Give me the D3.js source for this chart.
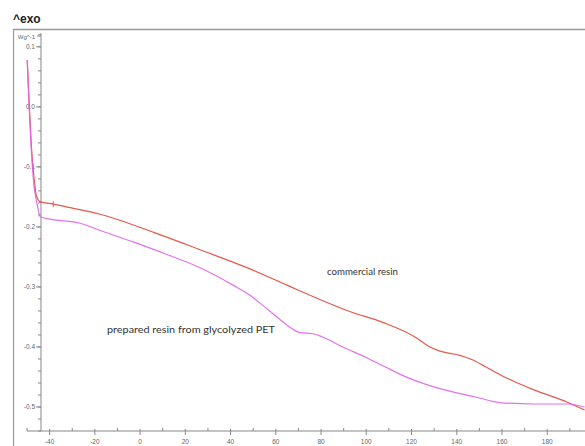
<!DOCTYPE html>
<html><head><meta charset="utf-8">
<script src="https://cdn.jsdelivr.net/npm/d3@7"></script>
<style>body{margin:0;background:#fff}svg{display:block}</style>
</head><body>
<script>
// Temperature (°C) and heat flow (W/g)
const commercialT = [-49.9,-49.0,-48.1,-46.8,-45.9,-44.2,-38.4,-32.2,-17.7,6.6,26.5,48.6,64.9,79.5,92.7,107.3,122.3,127.2,132.5,137.7,141.3,146.6,152.3,161.1,174.4,189.0,196.5];
const commercialV = [0.078,0.003,-0.063,-0.122,-0.147,-0.158,-0.162,-0.167,-0.179,-0.210,-0.238,-0.270,-0.297,-0.321,-0.341,-0.359,-0.385,-0.398,-0.407,-0.411,-0.414,-0.421,-0.432,-0.450,-0.472,-0.492,-0.505];
const preparedT = [-49.9,-49.0,-48.1,-46.8,-45.9,-45.0,-44.2,-39.7,-26.5,-17.7,-3.1,11.9,26.5,41.1,48.6,53.0,60.5,66.2,70.6,76.4,80.4,89.6,100.2,108.2,117.0,130.2,147.9,159.8,174.4,189.0,196.5];
const preparedV = [0.078,-0.005,-0.072,-0.135,-0.155,-0.172,-0.183,-0.187,-0.194,-0.206,-0.225,-0.246,-0.268,-0.297,-0.314,-0.327,-0.350,-0.367,-0.376,-0.378,-0.383,-0.400,-0.418,-0.433,-0.449,-0.467,-0.483,-0.493,-0.495,-0.495,-0.500];
const xTicks = [-40,-20,0,20,40,60,80,100,120,140,160,180,200];
const yTicks = [0.1,0.0,-0.1,-0.2,-0.3,-0.4,-0.5];
const yTickLabels = ["0.1","0.0","-0.1","-0.2","-0.3","-0.4","-0.5"];
const unitLabel = "Wg^-1";
const titleLabel = "^exo";
const seriesNames = ["commercial resin","prepared resin from glycolyzed PET"];
const markerT = [-38.4];

const W = 585, H = 446;
const svg = d3.select("body").append("svg").attr("width", W).attr("height", H);
const x = d3.scaleLinear().domain([-50, 196.7]).range([27, 585]);
const y = d3.scaleLinear().domain([-0.54, 0.123]).range([431, 33]);
const axisX = 41;
const axisCol = "#888", txtCol = "#666";

// frame
svg.append("line").attr("x1",13).attr("x2",W).attr("y1",29.5).attr("y2",29.5).attr("stroke","#999").attr("stroke-width",1.5);
svg.append("line").attr("x1",13.5).attr("x2",13.5).attr("y1",29).attr("y2",H).attr("stroke","#999").attr("stroke-width",1.2);
svg.append("text").attr("x",13).attr("y",23).text(titleLabel)
  .attr("font-family","Liberation Sans, Arial, sans-serif").attr("font-size",12).attr("font-weight","bold").attr("fill","#222");

// y axis
svg.append("line").attr("x1",axisX).attr("x2",axisX).attr("y1",33).attr("y2",431).attr("stroke",axisCol).attr("stroke-width",1);
const yMinor = d3.range(-0.54, 0.121, 0.02).map(v => Math.round(v*100)/100);
svg.append("g").selectAll("line").data(yMinor).join("line")
  .attr("x1",axisX-3).attr("x2",axisX).attr("y1",d=>y(d)).attr("y2",d=>y(d)).attr("stroke",axisCol);
svg.append("g").selectAll("line").data(yTicks).join("line")
  .attr("x1",axisX-5).attr("x2",axisX).attr("y1",d=>y(d)).attr("y2",d=>y(d)).attr("stroke",axisCol);
svg.append("g").selectAll("text").data(yTicks).join("text")
  .attr("x",axisX-6).attr("y",d=>y(d)+2.5).attr("text-anchor","end")
  .attr("font-family","Liberation Sans, Arial, sans-serif").attr("font-size",6.5).attr("fill",txtCol)
  .text((d,i)=>yTickLabels[i]);
svg.append("text").attr("x",axisX-6).attr("y",y(0.118)+2.5).attr("text-anchor","end")
  .attr("font-family","Liberation Sans, Arial, sans-serif").attr("font-size",6).attr("fill",txtCol).text(unitLabel);
svg.append("line").attr("x1",axisX-4).attr("x2",axisX).attr("y1",y(0.118)).attr("y2",y(0.118)).attr("stroke",axisCol);

// x axis
svg.append("line").attr("x1",x(-50)).attr("x2",W).attr("y1",431).attr("y2",431).attr("stroke",axisCol).attr("stroke-width",1.2);
const xMinor = d3.range(-50, 200, 10).filter(t => t % 20 !== 0);
svg.append("g").selectAll("line").data(xMinor).join("line")
  .attr("x1",d=>x(d)).attr("x2",d=>x(d)).attr("y1",428).attr("y2",431).attr("stroke",axisCol);
svg.append("g").selectAll("line").data(xTicks).join("line")
  .attr("x1",d=>x(d)).attr("x2",d=>x(d)).attr("y1",429).attr("y2",435).attr("stroke",axisCol);
svg.append("g").selectAll("text").data(xTicks).join("text")
  .attr("x",d=>x(d)).attr("y",444).attr("text-anchor","middle")
  .attr("font-family","Liberation Sans, Arial, sans-serif").attr("font-size",6.5).attr("fill",txtCol).text(d=>d);

// curves
const line = d3.line().x(d=>x(d[0])).y(d=>y(d[1])).curve(d3.curveMonotoneX);
const comm = commercialT.map((t,i)=>[t,commercialV[i]]);
const prep = preparedT.map((t,i)=>[t,preparedV[i]]);
svg.append("path").datum(comm).attr("d",line).attr("fill","none").attr("stroke","#e5584a").attr("stroke-width",1.2);
svg.append("path").datum(prep).attr("d",line).attr("fill","none").attr("stroke","#e062ea").attr("stroke-width",1.2).attr("stroke-opacity",0.9);
// small marker on the commercial curve
svg.append("g").selectAll("line").data(markerT).join("line")
  .attr("x1",d=>x(d)).attr("x2",d=>x(d))
  .attr("y1",d=>y(commercialV[commercialT.indexOf(d)])-3).attr("y2",d=>y(commercialV[commercialT.indexOf(d)])+3)
  .attr("stroke","#e5584a").attr("stroke-width",1);

// labels
svg.append("text").attr("x",327).attr("y",275).text(seriesNames[0])
  .attr("font-family","Lato, sans-serif").attr("font-size",10).attr("fill","#333")
  .attr("textLength",71).attr("lengthAdjust","spacingAndGlyphs");
svg.append("text").attr("x",107).attr("y",333).text(seriesNames[1])
  .attr("font-family","Lato, sans-serif").attr("font-size",10).attr("fill","#333")
  .attr("textLength",168).attr("lengthAdjust","spacingAndGlyphs");
</script>
</body></html>
